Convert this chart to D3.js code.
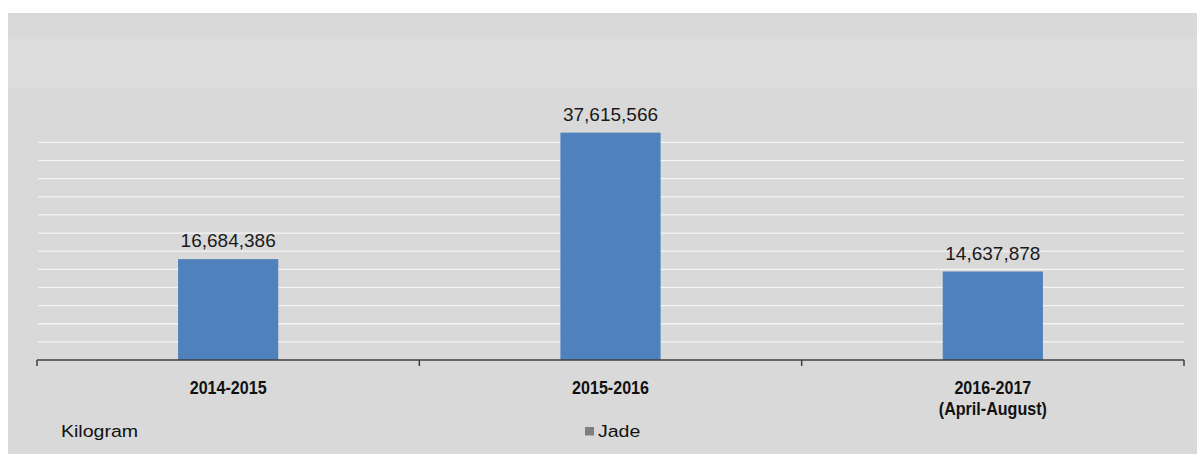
<!DOCTYPE html>
<html>
<head>
<meta charset="utf-8">
<script src="https://cdn.jsdelivr.net/npm/d3@7"></script>
<style>
  html, body { margin: 0; padding: 0; background: #ffffff; }
  svg { display: block; }
</style>
</head>
<body>
<div id="chart"></div>
<script>
// ---- data ----
const categories = ["2014-2015", "2015-2016", "2016-2017\n(April-August)"];
const values = [16684386, 37615566, 14637878];
const seriesName = "Jade";
const unitLabel = "Kilogram";
const gridValues = [3e6, 6e6, 9e6, 12e6, 15e6, 18e6, 21e6, 24e6, 27e6, 30e6, 33e6, 36e6];

// ---- layout ----
const W = 1197, H = 454;
const svg = d3.select("#chart").append("svg").attr("width", W).attr("height", H);

// background panel
svg.append("rect").attr("x", 8).attr("y", 13).attr("width", W - 8).attr("height", H - 13).attr("fill", "#d9d9d9");
svg.append("rect").attr("x", 8).attr("y", 37).attr("width", W - 8).attr("height", 51).attr("fill", "#dcdcdc");

const x = d3.scaleBand().domain(categories).range([37, 1184]).padding(0);
const y = d3.scaleLinear().domain([0, 45e6]).range([360, 88]);

// gridlines
svg.append("g").selectAll("line").data(gridValues).join("line")
  .attr("x1", 38).attr("x2", 1184)
  .attr("y1", d => y(d)).attr("y2", d => y(d))
  .attr("stroke", "#f4f4f4").attr("stroke-width", 1.3);

// bars
const barW = x.bandwidth() * 0.262;
svg.append("g").selectAll("rect").data(categories).join("rect")
  .attr("x", (d) => x(d) + x.bandwidth() / 2 - barW / 2)
  .attr("y", (d, i) => y(values[i]))
  .attr("width", barW)
  .attr("height", (d, i) => y(0) - y(values[i]))
  .attr("fill", "#4f81bd");

// value labels
const fmt = d3.format(",");
svg.append("g").selectAll("text").data(categories).join("text")
  .attr("x", d => x(d) + x.bandwidth() / 2)
  .attr("y", (d, i) => y(values[i]) - 12)
  .attr("text-anchor", "middle")
  .attr("font-family", "Liberation Sans, Arial, sans-serif")
  .attr("font-size", 19)
  .attr("fill", "#1a1a1a")
  .text((d, i) => fmt(values[i]));

// x axis
const axis = svg.append("g").attr("transform", "translate(0,360)");
axis.append("line").attr("x1", 37).attr("x2", 1184).attr("y1", 0).attr("y2", 0)
  .attr("stroke", "#404040").attr("stroke-width", 1.5);
const boundaries = categories.map(c => x(c)).concat([x.range()[1]]);
axis.selectAll("line.tick").data(boundaries).join("line").attr("class", "tick")
  .attr("x1", d => d).attr("x2", d => d).attr("y1", 0).attr("y2", 6)
  .attr("stroke", "#404040").attr("stroke-width", 1.5);

// category labels (slightly condensed bold)
const catG = svg.append("g").selectAll("g").data(categories).join("g")
  .attr("transform", d => `translate(${x(d) + x.bandwidth() / 2},394) scale(0.92,1)`);
catG.each(function(d) {
  const t = d3.select(this).append("text")
    .attr("text-anchor", "middle")
    .attr("font-family", "Liberation Sans, Arial, sans-serif")
    .attr("font-weight", "bold")
    .attr("font-size", 17.5)
    .attr("fill", "#111");
  d.split("\n").forEach((ln, i) => {
    t.append("tspan").attr("x", 0).attr("dy", i === 0 ? 0 : 21).text(ln);
  });
});

// unit label
svg.append("text")
  .attr("transform", "translate(61,437) scale(1.15,1)")
  .attr("font-family", "Liberation Sans, Arial, sans-serif")
  .attr("font-size", 17)
  .attr("fill", "#111")
  .text(unitLabel);

// legend
svg.append("rect").attr("x", 585).attr("y", 427).attr("width", 9).attr("height", 8.5).attr("fill", "#7f7f7f");
svg.append("text")
  .attr("transform", "translate(598,436.5) scale(1.15,1)")
  .attr("font-family", "Liberation Sans, Arial, sans-serif")
  .attr("font-size", 17)
  .attr("fill", "#111")
  .text(seriesName);
</script>
</body>
</html>
